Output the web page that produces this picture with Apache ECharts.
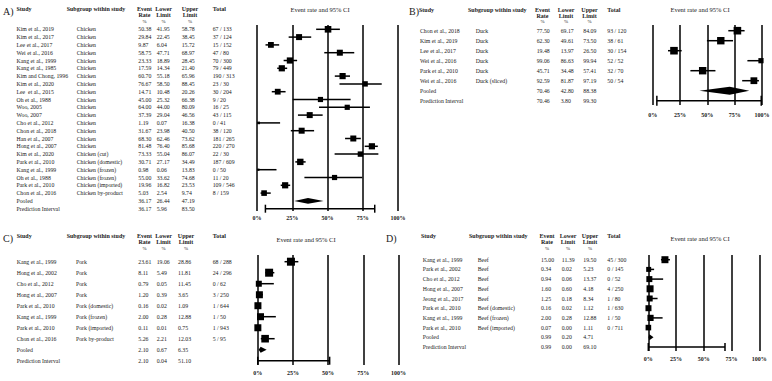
<!DOCTYPE html>
<html><head><meta charset="utf-8">
<script src="https://cdn.jsdelivr.net/npm/echarts@6/dist/echarts.min.js"></script>
<style>html,body{margin:0;padding:0;background:#fff}#c{width:772px;height:381px}</style>
</head><body><div id="c"></div>
<script>
// ---------------- DATA ----------------
const tickLabels = ['0%', '25%', '50%', '75%', '100%'];
const tickValues = [0, 25, 50, 75, 100];

// A) Chicken
const chickenStudies = ['Kim et al., 2019','Kim et al., 2017','Lee et al., 2017','Wei et al., 2016','Kang et al., 1999','Kang et al., 1985','Kim and Chong, 1996','Kim et al., 2020','Lee  et al., 2015','Oh et al., 1988','Woo, 2005','Woo, 2007','Cho et al., 2012','Chon et al., 2018','Han et al., 2007','Hong et al., 2007','Kim et al., 2020','Park et al., 2010','Kang et al., 1999','Oh et al., 1988','Park et al., 2010','Chon et al., 2016','Pooled','Prediction Interval'];
const chickenSubgroups = ['Chicken','Chicken','Chicken','Chicken','Chicken','Chicken','Chicken','Chicken','Chicken','Chicken','Chicken','Chicken','Chicken','Chicken','Chicken','Chicken','Chicken (cut)','Chicken (domestic)','Chicken (frozen)','Chicken (frozen)','Chicken (imported)','Chicken by-product','',''];
const chickenRate  = [50.38,29.84,9.87,58.75,23.33,17.59,60.70,76.67,14.71,45.00,64.00,37.39,1.19,31.67,68.30,81.48,73.33,30.71,0.98,55.00,19.96,5.03,36.17,36.17];
const chickenLower = [41.95,22.45,6.04,47.71,18.89,14.34,55.18,58.50,10.48,25.32,44.00,29.04,0.07,23.98,62.46,76.40,55.04,27.17,0.06,33.62,16.82,2.54,26.44,5.96];
const chickenUpper = [58.78,38.45,15.72,68.97,28.45,21.40,65.96,88.45,20.26,66.38,80.09,46.56,16.38,40.50,73.62,85.68,86.07,34.49,13.83,74.68,23.53,9.74,47.19,83.50];
const chickenTotal = ['67 / 133','37 / 124','15 / 152','47 / 80','70 / 300','79 / 449','190 / 313','23 / 30','30 / 204','9 / 20','16 / 25','43 / 115','0 / 41','38 / 120','181 / 265','220 / 270','22 / 30','187 / 609','0 / 50','11 / 20','109 / 546','8 / 159','',''];
const chickenWeight = [6.6,6,5.8,6,6.2,6.2,6.2,5.4,5.8,5.2,5.2,6,2.6,6,6,6.2,5.4,6.4,2.2,5.2,6.2,5.6,0,0];

// B) Duck
const duckStudies = ['Chon et al., 2018','Kim et al., 2019','Lee et al., 2017','Wei et al., 2016','Park et al., 2010','Wei et al., 2016','Pooled','Prediction Interval'];
const duckSubgroups = ['Duck','Duck','Duck','Duck','Duck','Duck (sliced)','',''];
const duckRate  = [77.50,62.30,19.48,99.06,45.71,92.59,70.46,70.46];
const duckLower = [69.17,49.61,13.97,86.63,34.48,81.87,42.80,3.80];
const duckUpper = [84.09,73.50,26.50,99.94,57.41,97.19,88.38,99.30];
const duckTotal = ['93 / 120','38 / 61','30 / 154','52 / 52','32 / 70','50 / 54','',''];
const duckWeight = [7.6,7.4,7.6,5.2,7.4,6.8,0,0];

// C) Pork
const porkStudies = ['Kang et al., 1999','Hong et al., 2002','Cho et al., 2012','Hong et al., 2007','Park et al., 2010','Kang et al., 1999','Park et al., 2010','Chon et al., 2016','Pooled','Prediction Interval'];
const porkSubgroups = ['Pork','Pork','Pork','Pork','Pork (domestic)','Pork (frozen)','Pork (imported)','Pork by-product','',''];
const porkRate  = [23.61,8.11,0.79,1.20,0.16,2.00,0.11,5.26,2.10,2.10];
const porkLower = [19.06,5.49,0.05,0.39,0.02,0.28,0.01,2.21,0.67,0.04];
const porkUpper = [28.86,11.81,11.45,3.65,1.09,12.88,0.75,12.03,6.35,51.10];
const porkTotal = ['68 / 288','24 / 296','0 / 62','3 / 250','1 / 644','1 / 50','1 / 943','5 / 95','',''];
const porkWeight = [8,8,6,7,7,7,7,7.6,0,0];

// D) Beef
const beefStudies = ['Kang et al., 1999','Park et al., 2002','Cho et al., 2012','Hong et al., 2007','Jeong et al., 2017','Park et al., 2010','Kang et al., 1999','Park et al., 2010','Pooled','Prediction Interval'];
const beefSubgroups = ['Beef','Beef','Beef','Beef','Beef','Beef (domestic)','Beef (frozen)','Beef (imported)','',''];
const beefRate  = [15.00,0.34,0.94,1.60,1.25,0.16,2.00,0.07,0.99,0.99];
const beefLower = [11.39,0.02,0.06,0.60,0.18,0.02,0.28,0.00,0.20,0.00];
const beefUpper = [19.50,5.23,13.37,4.18,8.34,1.12,12.88,1.11,4.71,69.10];
const beefTotal = ['45 / 300','0 / 145','0 / 52','4 / 250','1 / 80','1 / 630','1 / 50','0 / 711','',''];
const beefWeight = [7,5,6,7,6,6,6.2,5.6,0,0];

// ---------------- LAYOUT / STYLE ----------------
const FONT = '"Liberation Serif","DejaVu Serif",serif';
const TXT = '#1a1a1a';
const BODY = 5.8;

const panels = [
  { letter:'A)', title:'Event rate and 95% CI',
    d:{s:chickenStudies,g:chickenSubgroups,r:chickenRate,lo:chickenLower,hi:chickenUpper,t:chickenTotal,w:chickenWeight},
    x0:257, x1:398, top:25, row0:29.3, step:7.8, bottom:211, labelY:218,
    col:{s:16.5,g:76.7,r:138.3,lo:156.7,hi:181.7,t:212.7},
    head:{lx:3, ly:11.5, y:9, s:16.5, g:66.7, r:144.5, lo:163.5, hi:190, t:212.7, tx:320, ty:9.5},
    capH:8, diaH:2.8 },
  { letter:'B)', title:'Event rate and 95% CI',
    d:{s:duckStudies,g:duckSubgroups,r:duckRate,lo:duckLower,hi:duckUpper,t:duckTotal,w:duckWeight},
    x0:652.7, x1:762, top:25, row0:30.7, step:10, bottom:105, labelY:115,
    col:{s:420,g:475.7,r:536.7,lo:560.7,hi:583.3,t:607.3},
    head:{lx:409, ly:11.5, y:9.5, s:419, g:468, r:542.5, lo:566, hi:589.5, t:607.3, tx:700, ty:9.5},
    capH:10, diaH:4 },
  { letter:'C)', title:'Event rate and 95% CI',
    d:{s:porkStudies,g:porkSubgroups,r:porkRate,lo:porkLower,hi:porkUpper,t:porkTotal,w:porkWeight},
    x0:257.7, x1:398.5, top:255, row0:261.7, step:11, bottom:365, labelY:373,
    col:{s:16.7,g:76,r:138.3,lo:156.7,hi:178,t:212.7},
    head:{lx:3, ly:238, y:236, s:16.7, g:66.7, r:144.5, lo:163.5, hi:186, t:212.7, tx:306, ty:239},
    capH:8, diaH:3 },
  { letter:'D)', title:'Event rate and 95% CI',
    d:{s:beefStudies,g:beefSubgroups,r:beefRate,lo:beefLower,hi:beefUpper,t:beefTotal,w:beefWeight},
    x0:648.3, x1:759.3, top:255, row0:259.7, step:9.7, bottom:351, labelY:359.3,
    col:{s:422.7,g:477.7,r:541,lo:561.7,hi:583.3,t:607.3},
    head:{lx:386, ly:238, y:236, s:421, g:469, r:547, lo:568, hi:590, t:607.3, tx:700, ty:238},
    capH:8, diaH:3 }
];

// ---------------- BUILD ----------------
const grids = [], xAxes = [], yAxes = [], series = [], graphics = [];

function txt(x, y, text, opt) {
  opt = opt || {};
  return { type:'text', x:x, y:y, silent:true,
    style:{ text:text, fill:TXT, fontFamily:FONT, fontSize:opt.size||BODY, fontWeight:opt.bold?'bold':'normal',
      align:opt.align||'left', verticalAlign:'middle' } };
}

panels.forEach(function(P, i) {
  const d = P.d, n = d.s.length;
  grids.push({ left:P.x0, width:P.x1-P.x0, top:P.top, height:P.bottom-P.top, containLabel:false, outerBoundsMode:'none' });
  xAxes.push({ gridIndex:i, type:'value', min:0, max:100, interval:25,
    axisLine:{show:false}, axisTick:{show:false},
    splitLine:{show:true, showMinLine:true, showMaxLine:true, lineStyle:{color:'#000', width:1.5}},
    axisLabel:{ margin:P.labelY-P.bottom-3, fontSize:6, fontWeight:'bold', fontFamily:FONT, color:TXT,
      formatter:function(v){ return tickLabels[tickValues.indexOf(Math.round(v))]; } } });
  yAxes.push({ gridIndex:i, type:'value', inverse:true, show:false,
    min:-(P.row0-P.top)/P.step, max:(P.bottom-P.row0)/P.step });

  // marks
  const markData = [];
  for (let k = 0; k < n; k++) {
    const kind = k === n-2 ? 1 : (k === n-1 ? 2 : 0);
    markData.push([k, d.r[k], d.lo[k], d.hi[k], kind, d.w[k]]);
  }
  series.push({ type:'custom', xAxisIndex:i, yAxisIndex:i, clip:false, silent:true, animation:false,
    encode:{ x:[1,2,3], y:0 }, data:markData,
    renderItem:function(params, api) {
      const row = api.value(0), r = api.value(1), lo = api.value(2), hi = api.value(3), kind = api.value(4), w = api.value(5);
      const y = api.coord([0,row])[1];
      const xr = api.coord([r,row])[0], xl = api.coord([lo,row])[0], xh = api.coord([hi,row])[0];
      const ls = { stroke:'#000', lineWidth:1.5 };
      if (kind === 0) {
        const s = w;
        return { type:'group', children:[
          { type:'line', shape:{x1:xl,y1:y,x2:xh,y2:y}, style:ls },
          { type:'rect', shape:{x:xr-s/2,y:y-s/2,width:s,height:s}, style:{fill:'#000'} } ] };
      } else if (kind === 1) {
        const h = P.diaH;
        return { type:'polygon', shape:{points:[[xl,y],[xr,y-h],[xh,y],[xr,y+h]]}, style:{fill:'#000'} };
      }
      const c = P.capH/2;
      return { type:'group', children:[
        { type:'line', shape:{x1:xl,y1:y,x2:xh,y2:y}, style:ls },
        { type:'line', shape:{x1:xl,y1:y-c,x2:xl,y2:y+c}, style:ls },
        { type:'line', shape:{x1:xh,y1:y-c,x2:xh,y2:y+c}, style:ls } ] };
    } });

  // table text rows
  const rowData = [];
  for (let k = 0; k < n; k++) rowData.push([0, k]);
  series.push({ type:'custom', xAxisIndex:i, yAxisIndex:i, clip:false, silent:true, animation:false,
    encode:{ x:0, y:1 }, data:rowData,
    renderItem:function(params, api) {
      const k = api.value(1);
      const y = api.coord([0,k])[1];
      const C = P.col;
      return { type:'group', children:[
        txt(C.s, y, d.s[k]), txt(C.g, y, d.g[k]),
        txt(C.r, y, d.r[k].toFixed(2)), txt(C.lo, y, d.lo[k].toFixed(2)), txt(C.hi, y, d.hi[k].toFixed(2)),
        txt(C.t, y, d.t[k]) ] };
    } });

  // headers
  const H = P.head, dy = 6.3;
  graphics.push(txt(H.lx, H.ly, P.letter, {size:10}));
  graphics.push(txt(H.s, H.y, 'Study', {bold:true, size:6}));
  graphics.push(txt(H.g, H.y, 'Subgroup within study', {bold:true, size:6}));
  [['Event','Rate',H.r],['Lower','Limit',H.lo],['Upper','Limit',H.hi]].forEach(function(c){
    graphics.push(txt(c[2], H.y, c[0], {bold:true, align:'center', size:6}));
    graphics.push(txt(c[2], H.y+dy, c[1], {bold:true, align:'center', size:6}));
    graphics.push(txt(c[2], H.y+2*dy-0.5, '%', {size:5, align:'center'}));
  });
  graphics.push(txt(H.t, H.y, 'Total', {bold:true, size:6}));
  graphics.push(txt(H.tx, H.ty, P.title, {size:6.5, align:'center'}));
});

const chart = echarts.init(document.getElementById('c'), null, { renderer:'svg', width:772, height:381 });
chart.setOption({
  animation:false,
  backgroundColor:'#fff',
  grid:grids, xAxis:xAxes, yAxis:yAxes, series:series,
  graphic:{ elements:graphics }
});
</script></body></html>
